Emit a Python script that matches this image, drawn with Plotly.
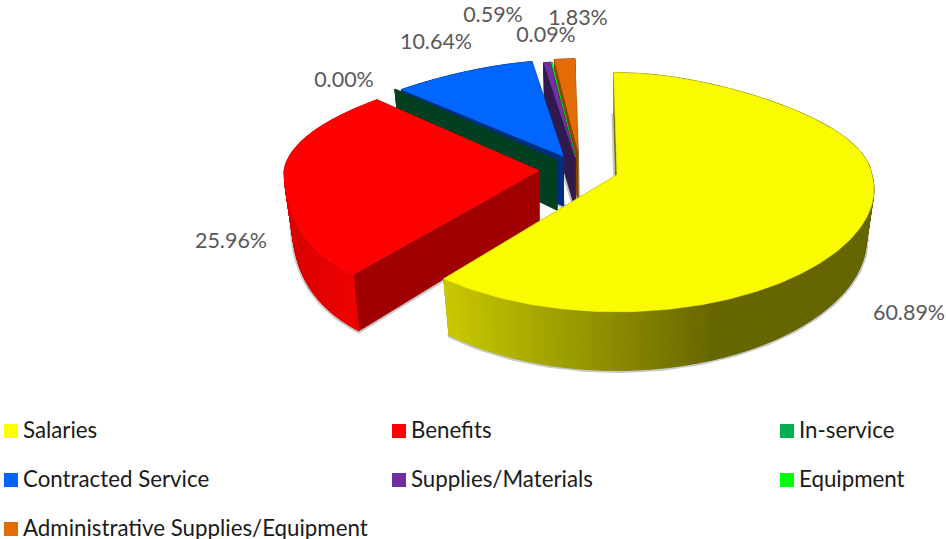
import math
import plotly.graph_objects as go

# ---- data ----
categories = ["Salaries", "Benefits", "In-service", "Contracted Service",
              "Supplies/Materials", "Equipment", "Administrative Supplies/Equipment"]
shares = [60.89, 25.96, 0.00, 10.64, 0.59, 0.09, 1.83]

# ---- styles ----
top_colors = ["#FAFA00", "#FF0000", "#00A550", "#0066FF", "#7030A0", "#00FF00", "#E36C09"]
legend_colors = ["#FFFF00", "#FF0000", "#00B050", "#0066FF", "#7030A0", "#00FF00", "#E36C09"]
cut_colors = ["#6B6B00", "#A00000", "#004020", "#002E80", "#2E1A4C", "#006600", "#8A4200"]
explode = [0.157, 0.157, 0.115, 0.125, 0.10, 0.10, 0.157]
back_scale = [1, 1, 1, 0.94, 0.94, 0.94, 0.9]
front_linear = [0.125, 0.0, 0.115, 0.115, 0.115, 0.115, 0.115]
front_square = [0.0, 0.29, 0.0, 0.0, 0.0, 0.0, 0.0]
nudge_x = [0, 0, 0, 0, 0, 0, 2]
draw_order = [6, 5, 4, 3, 2, 1, 0]
side_ramps = {0: ((445, (200, 200, 0)), (715, (102, 102, 0))),
              1: ((285, (216, 0, 0)), (355, (240, 0, 0)))}
side_default = {3: "#002E80", 4: "#2E1A4C", 5: "#006600", 6: "#8A4200", 2: "#004020"}

CX, CY, RX, RY, K, DEPTH, TAPER, START = 579, 169, 255, 117, 0.146, 50, 0.97, -1.0

label_x = [909, 231, 344, 436, 493, 546, 578]
label_y = [315, 243, 82, 44, 17, 37, 20]
legend_x = [11, 399, 787, 11, 399, 787, 11]
legend_y = [431, 431, 431, 480, 480, 480, 529]
legend_text_y = [432, 432, 432, 481, 481, 481, 530]
legend_text_offset = 12


def sx(i, v):
    if v > 0:
        return 1 + front_linear[i] * v + front_square[i] * v * v
    return 1 + 0.0716 * v - 0.229 * v * v


def sy(v):
    return 1 / (1 - K * v)


def dirn(a):
    r = math.radians(a)
    return math.sin(r), -math.cos(r)


def top_pt(i, apex, a):
    u, v = dirn(a)
    yscale = back_scale[i] if v < 0 else 1
    return apex[0] + RX * u * sx(i, v), apex[1] + RY * v * sy(v) * yscale


def bot_pt(i, apex, a):
    x, y = top_pt(i, apex, a)
    v = dirn(a)[1]
    return apex[0] + (x - apex[0]) * TAPER, y + DEPTH * sy(v)


def poly(fig, pts, color, lw=0.8, fill=True, line_color=None):
    xs = [p[0] for p in pts] + [pts[0][0]]
    ys = [p[1] for p in pts] + [pts[0][1]]
    fig.add_trace(go.Scatter(x=xs, y=ys, mode="lines", fill="toself" if fill else "none",
                             fillcolor=color if fill else None,
                             line=dict(color=line_color or color, width=lw),
                             hoverinfo="skip", showlegend=False))


def side_color(i, x):
    if i in side_ramps:
        (x0, c0), (x1, c1) = side_ramps[i]
        t = max(0.0, min(1.0, (x - x0) / (x1 - x0)))
        return "rgb(%d,%d,%d)" % tuple(round(c0[k] + (c1[k] - c0[k]) * t) for k in range(3))
    return side_default[i]


fig = go.Figure()

# slice angular extents come from the shares
spans = []
a = START
for s in shares:
    b = a + s * 3.6
    spans.append((a, b))
    a = b

for i in draw_order:
    a0, a1 = spans[i]
    mid = (a0 + a1) / 2
    u, v = dirn(mid)
    apex = (CX + explode[i] * RX * u + nudge_x[i], CY + explode[i] * RY * v)
    n = max(1, int(a1 - a0))
    angs = [a0 + (a1 - a0) * j / n for j in range(n + 1)]
    apex_b = (apex[0], apex[1] + DEPTH)

    # soft drop shadow around the lower face
    if shares[i] > 0:
        poly(fig, [apex_b] + [bot_pt(i, apex, t) for t in angs], "rgba(0,0,0,0)", lw=5,
             line_color="rgba(110,110,110,0.38)")
    # cut faces
    for t in (a1, a0):
        poly(fig, [apex, top_pt(i, apex, t), bot_pt(i, apex, t), apex_b], cut_colors[i])
    # outer wall, strip by strip
    for j in range(n):
        p = [top_pt(i, apex, angs[j]), top_pt(i, apex, angs[j + 1]),
             bot_pt(i, apex, angs[j + 1]), bot_pt(i, apex, angs[j])]
        poly(fig, p, side_color(i, (p[0][0] + p[1][0]) / 2), lw=1.0)
    # top face
    if shares[i] > 0:
        poly(fig, [apex] + [top_pt(i, apex, t) for t in angs], top_colors[i], lw=0.5)

# data labels
fig.add_trace(go.Scatter(x=label_x, y=label_y, mode="text",
                         text=["%.2f%%" % s for s in shares],
                         textposition="middle center",
                         textfont=dict(family="Lato", size=21.5, color="#595959"),
                         hoverinfo="skip", showlegend=False, cliponaxis=False))
# legend
fig.add_trace(go.Scatter(x=legend_x, y=legend_y, mode="markers",
                         marker=dict(symbol="square", size=14, color=legend_colors),
                         hoverinfo="skip", showlegend=False, cliponaxis=False))
fig.add_trace(go.Scatter(x=[p + legend_text_offset for p in legend_x], y=legend_text_y, mode="text",
                         text=categories, textposition="middle right",
                         textfont=dict(family="Lato", size=22.3, color="#1a1a1a"),
                         hoverinfo="skip", showlegend=False, cliponaxis=False))

fig.update_layout(width=946, height=539, margin=dict(l=0, r=0, t=0, b=0),
                  paper_bgcolor="white", plot_bgcolor="white", showlegend=False,
                  xaxis=dict(range=[0, 946], visible=False, fixedrange=True),
                  yaxis=dict(range=[539, 0], visible=False, fixedrange=True))
fig.write_html("out.html", config={"displayModeBar": False},
               post_script="document.body.style.margin='0';document.body.style.overflow='hidden';")
